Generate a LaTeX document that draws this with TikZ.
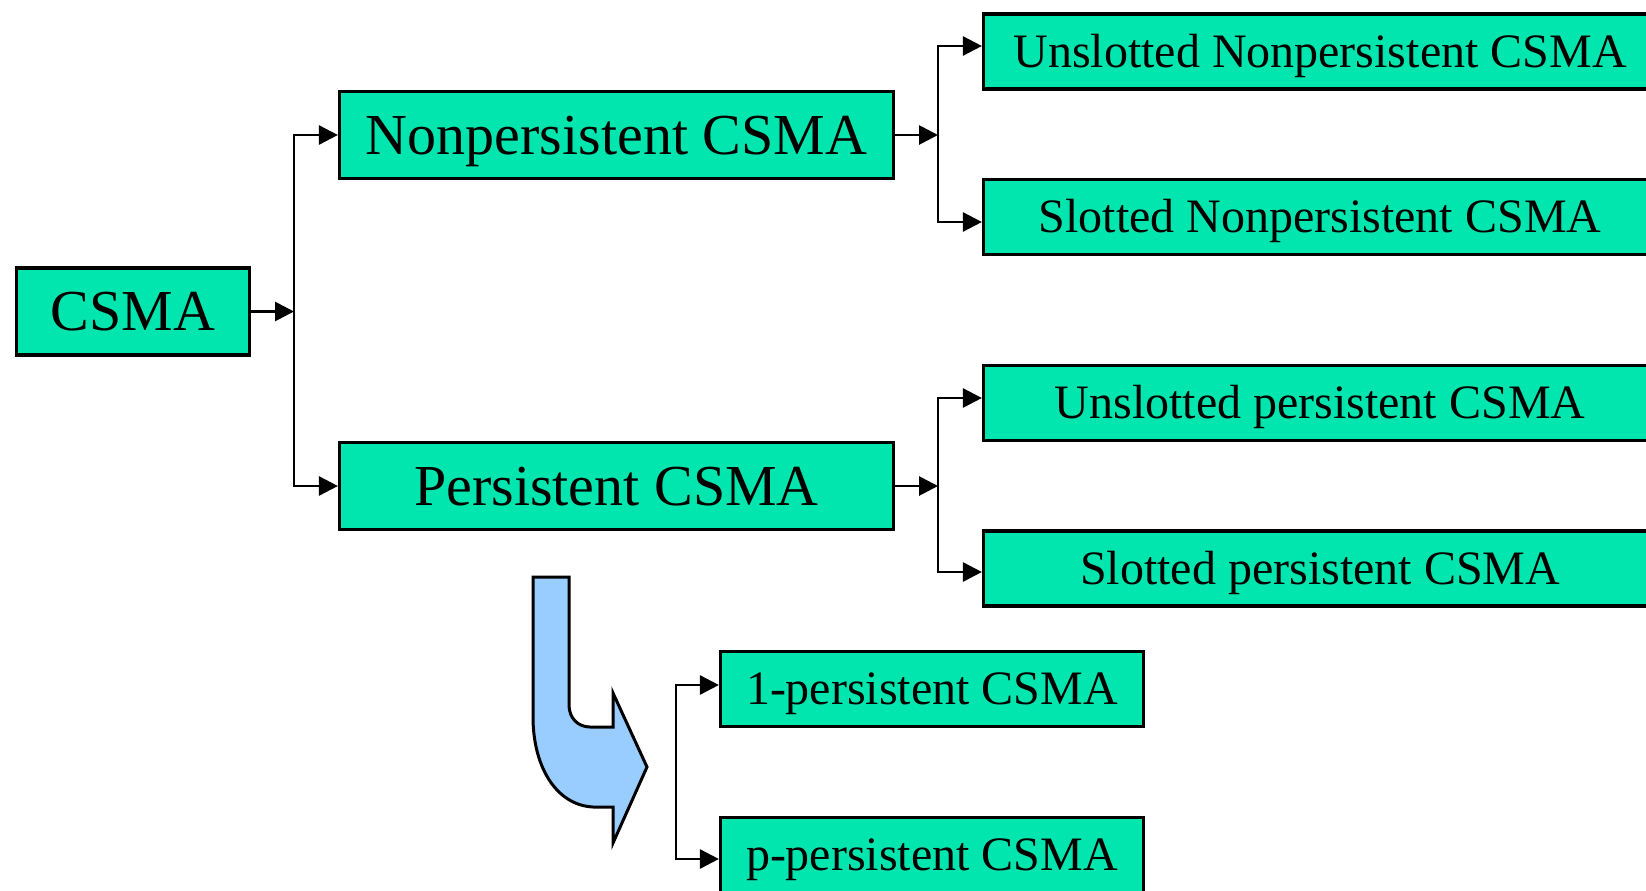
\documentclass[tikz,border=0pt]{standalone}
\usepackage{fontspec}
\setmainfont{Liberation Serif}
\usetikzlibrary{arrows.meta}
\definecolor{boxgreen}{RGB}{0,230,174}
\definecolor{arrowblue}{RGB}{153,204,255}
\begin{document}
\begin{tikzpicture}[x=1pt,y=-1pt,
  box/.style={draw=black, line width=3.2pt, fill=boxgreen, inner sep=0pt, text depth=0pt},
  bigbox/.style={box, font=\fontsize{58}{60}\selectfont, text height=38.4pt, minimum height=87pt},
  smallbox/.style={box, font=\fontsize{48}{50}\selectfont, text height=31.8pt, minimum height=75pt},
  tip/.tip={Triangle[length=19pt,width=19pt]},
  link/.style={line width=2.8pt, -tip},
  bothlink/.style={line width=2.8pt, tip-tip},
]
\useasboundingbox (0,0) rectangle (1646,891);
\clip (0,0) rectangle (1646,891);

% tree of CSMA variants
\node[bigbox, minimum width=233] (csma) at (133,311.5) {CSMA};
\node[bigbox, minimum width=554] (np) at (616.5,135) {Nonpersistent CSMA};
\node[bigbox, minimum width=554] (p) at (616.5,486) {Persistent CSMA};
\node[smallbox, minimum width=673] (unp) at (1320,51.5) {Unslotted Nonpersistent CSMA};
\node[smallbox, minimum width=673] (snp) at (1320,217) {Slotted Nonpersistent CSMA};
\node[smallbox, minimum width=673] (up) at (1320,403) {Unslotted persistent CSMA};
\node[smallbox, minimum width=673] (sp) at (1320,568.5) {Slotted persistent CSMA};
\node[smallbox, minimum width=423] (onep) at (932,689) {1-persistent CSMA};
\node[smallbox, minimum width=423] (pp) at (932,855) {p-persistent CSMA};

% junction points of the brackets
\coordinate (j1) at (294,311.5);
\coordinate (j2) at (938,135);
\coordinate (j3) at (938,486);

\draw[link] (csma.east) -- (j1);
\draw[link] (j1) |- (np.west);
\draw[link] (j1) |- (p.west);

\draw[link] (np.east) -- (j2);
\draw[link] (j2) |- ([yshift=5.5pt]unp.west);
\draw[link] (j2) |- ([yshift=-5pt]snp.west);

\draw[link] (p.east) -- (j3);
\draw[link] (j3) |- ([yshift=5pt]up.west);
\draw[link] (j3) |- ([yshift=-3.5pt]sp.west);

\draw[bothlink] ([yshift=4pt]onep.west) -- ++(-43,0) |- ([yshift=-4pt]pp.west);

% curved block arrow
\draw[line width=3pt, fill=arrowblue, line join=miter]
  (533,577) -- (569,577) -- (569,705)
  .. controls (569,718) and (578,727) .. (590,727)
  -- (613,727) -- (613,693) -- (647,767) -- (613,843) -- (613,807) -- (593,807)
  .. controls (555,805) and (533,765) .. (533,717) -- cycle;
\end{tikzpicture}
\end{document}
